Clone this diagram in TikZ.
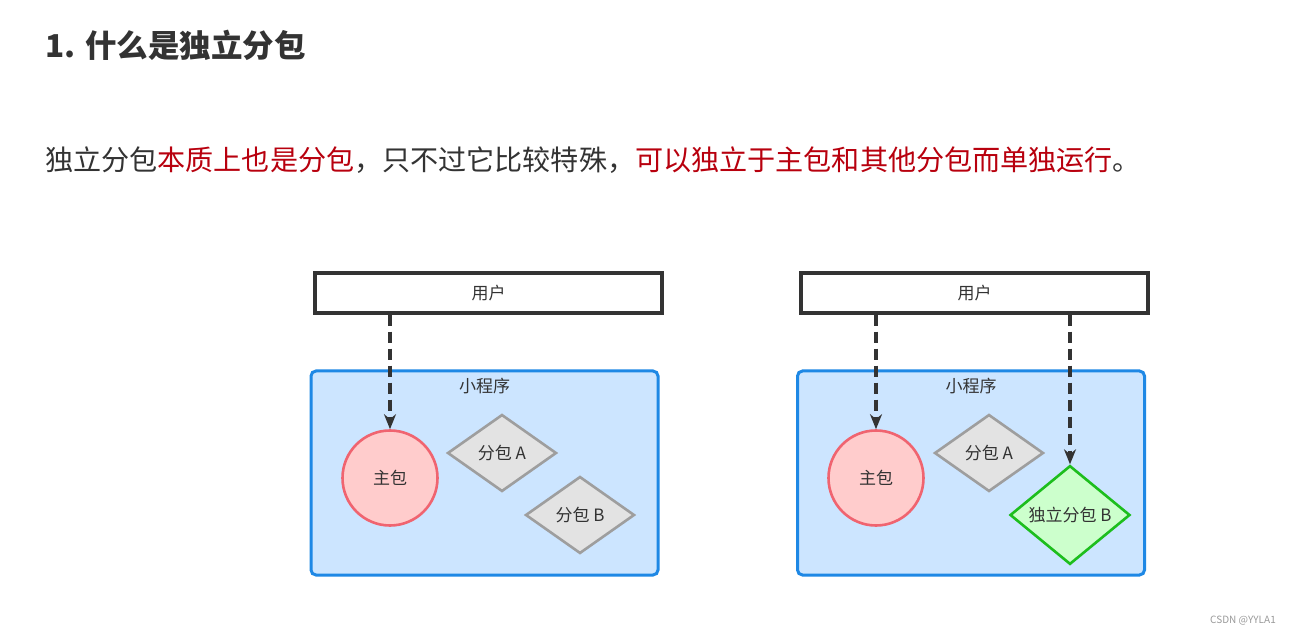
\documentclass[tikz,border=0pt]{standalone}
\usepackage{fontspec}
\setmainfont{Noto Sans CJK SC}
\usetikzlibrary{arrows.meta}
\usetikzlibrary{shapes.geometric}
\usetikzlibrary{positioning}
\definecolor{txt}{HTML}{333333}
\definecolor{hot}{HTML}{B8000E}
\definecolor{appline}{HTML}{1E88E5}
\definecolor{appfill}{HTML}{CCE5FF}
\definecolor{mainline}{HTML}{F06470}
\definecolor{mainfill}{HTML}{FFCCCC}
\definecolor{subline}{HTML}{9E9E9E}
\definecolor{subfill}{HTML}{E3E3E3}
\definecolor{indline}{HTML}{1DBE1D}
\definecolor{indfill}{HTML}{CCFFCC}
\tikzstyle{lbl}=[inner sep=0pt,text=txt,font=\fontsize{17}{19}\selectfont]
\tikzstyle{userbox}=[lbl,rectangle,draw=txt,line width=3.2pt,fill=white,minimum width=347pt,minimum height=40pt]
\tikzstyle{appbox}=[rectangle,rounded corners=5pt,draw=appline,line width=3pt,fill=appfill,minimum width=347pt,minimum height=204pt]
\tikzstyle{mainpkg}=[lbl,circle,draw=mainline,line width=2.6pt,fill=mainfill,minimum size=95pt]
\tikzstyle{subpkg}=[lbl,diamond,draw=subline,line width=2.6pt,fill=subfill,minimum width=109pt,minimum height=77pt]
\tikzstyle{indpkg}=[lbl,diamond,draw=indline,line width=2.6pt,fill=indfill,minimum width=120pt,minimum height=84pt]
\tikzstyle{arr}=[-{Stealth[length=15pt,width=12pt]},draw=txt,line width=3.2pt,dash pattern=on 11pt off 6pt]

\begin{document}
\begin{tikzpicture}[x=1pt,y=-1pt]
  \useasboundingbox[fill=white] (0,0) rectangle (1291,636);
  \node[anchor=west,inner sep=0pt,text=txt,font=\bfseries\fontsize{31.5}{34}\selectfont] (title) at (45,45) {1. 什么是独立分包};
  \node[anchor=west,inner sep=0pt,text=txt,font=\fontsize{28.1}{34}\selectfont] (intro) at (45,160)
    {独立分包\textcolor{hot}{本质上也是分包}，只不过它比较特殊，\textcolor{hot}{可以独立于主包和其他分包而单独运行}。};
  \begin{scope}
    \node[userbox] (user) at (488.5,293) {用户};
    \node[appbox] (app) at (484.5,473) {};
    \node[lbl,below=8pt of app.north] (appname) {小程序};
    \node[mainpkg] (main) at (390,478) {主包};
    \node[subpkg] (subA) at (502,453) {分包 A};
    \node[subpkg] (subB) at (580,515) {分包 B};
    \draw[arr] (user.south -| main) -- (main.north);
  \end{scope}
  \begin{scope}[xshift=486pt]
    \node[userbox] (user) at (488.5,293) {用户};
    \node[appbox] (app) at (485,473) {};
    \node[lbl,below=8pt of app.north] (appname) {小程序};
    \node[mainpkg] (main) at (390,478) {主包};
    \node[subpkg] (subA) at (503,453) {分包 A};
    \node[indpkg] (indB) at (584,515) {独立分包 B};
    \draw[arr] (user.south -| main) -- (main.north);
    \draw[arr] (user.south -| indB) -- (indB.north);
  \end{scope}
  \node[anchor=east,inner sep=0pt,text=black!40,font=\fontsize{10}{12}\selectfont] (mark) at (1276,621) {CSDN @YYLA1};
\end{tikzpicture}
\end{document}
